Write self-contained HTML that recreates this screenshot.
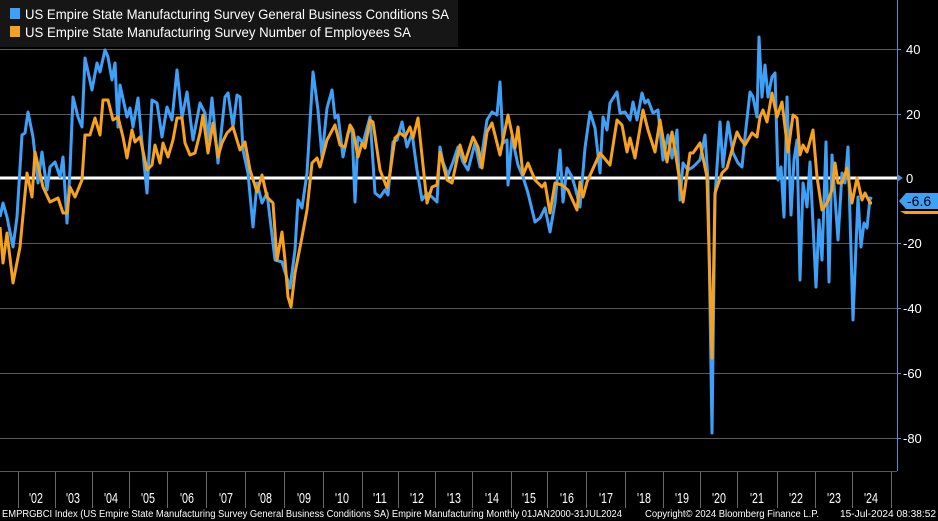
<!DOCTYPE html>
<html><head><meta charset="utf-8"><style>
html,body{margin:0;padding:0;background:#000;}
svg{display:block;font-family:"Liberation Sans",sans-serif;}
</style></head><body>
<svg width="938" height="521" viewBox="0 0 938 521" xmlns="http://www.w3.org/2000/svg">
<rect width="938" height="521" fill="#000"/>
<g stroke="#5a5a5a" stroke-width="1">
<line x1="0" y1="49.5" x2="897" y2="49.5"/>
<line x1="0" y1="114.5" x2="897" y2="114.5"/>
<line x1="0" y1="243.5" x2="897" y2="243.5"/>
<line x1="0" y1="308.5" x2="897" y2="308.5"/>
<line x1="0" y1="373.5" x2="897" y2="373.5"/>
<line x1="0" y1="438.5" x2="897" y2="438.5"/>
<line x1="0" y1="471.5" x2="897" y2="471.5"/>
</g>
<g stroke="#6a6a6a" stroke-width="1">
<line x1="18.5" y1="472" x2="18.5" y2="508"/><line x1="55.5" y1="472" x2="55.5" y2="508"/><line x1="92.5" y1="472" x2="92.5" y2="508"/><line x1="129.5" y1="472" x2="129.5" y2="508"/><line x1="167.5" y1="472" x2="167.5" y2="508"/><line x1="206.5" y1="472" x2="206.5" y2="508"/><line x1="245.5" y1="472" x2="245.5" y2="508"/><line x1="284.5" y1="472" x2="284.5" y2="508"/><line x1="323.5" y1="472" x2="323.5" y2="508"/><line x1="362.5" y1="472" x2="362.5" y2="508"/><line x1="398.5" y1="472" x2="398.5" y2="508"/><line x1="435.5" y1="472" x2="435.5" y2="508"/><line x1="472.5" y1="472" x2="472.5" y2="508"/><line x1="511.5" y1="472" x2="511.5" y2="508"/><line x1="547.5" y1="472" x2="547.5" y2="508"/><line x1="586.5" y1="472" x2="586.5" y2="508"/><line x1="625.5" y1="472" x2="625.5" y2="508"/><line x1="663.5" y1="472" x2="663.5" y2="508"/><line x1="700.5" y1="472" x2="700.5" y2="508"/><line x1="737.5" y1="472" x2="737.5" y2="508"/><line x1="777.5" y1="472" x2="777.5" y2="508"/><line x1="815.5" y1="472" x2="815.5" y2="508"/><line x1="852.5" y1="472" x2="852.5" y2="508"/><line x1="891.5" y1="472" x2="891.5" y2="508"/>
</g>
<g fill="#fff" font-size="15" text-anchor="middle">
<text x="36" y="503" textLength="14" lengthAdjust="spacingAndGlyphs">'02</text><text x="73" y="503" textLength="14" lengthAdjust="spacingAndGlyphs">'03</text><text x="111" y="503" textLength="14" lengthAdjust="spacingAndGlyphs">'04</text><text x="148" y="503" textLength="14" lengthAdjust="spacingAndGlyphs">'05</text><text x="187" y="503" textLength="14" lengthAdjust="spacingAndGlyphs">'06</text><text x="226" y="503" textLength="14" lengthAdjust="spacingAndGlyphs">'07</text><text x="265" y="503" textLength="14" lengthAdjust="spacingAndGlyphs">'08</text><text x="304" y="503" textLength="14" lengthAdjust="spacingAndGlyphs">'09</text><text x="342" y="503" textLength="14" lengthAdjust="spacingAndGlyphs">'10</text><text x="380" y="503" textLength="14" lengthAdjust="spacingAndGlyphs">'11</text><text x="417" y="503" textLength="14" lengthAdjust="spacingAndGlyphs">'12</text><text x="454" y="503" textLength="14" lengthAdjust="spacingAndGlyphs">'13</text><text x="492" y="503" textLength="14" lengthAdjust="spacingAndGlyphs">'14</text><text x="529" y="503" textLength="14" lengthAdjust="spacingAndGlyphs">'15</text><text x="567" y="503" textLength="14" lengthAdjust="spacingAndGlyphs">'16</text><text x="606" y="503" textLength="14" lengthAdjust="spacingAndGlyphs">'17</text><text x="644" y="503" textLength="14" lengthAdjust="spacingAndGlyphs">'18</text><text x="682" y="503" textLength="14" lengthAdjust="spacingAndGlyphs">'19</text><text x="719" y="503" textLength="14" lengthAdjust="spacingAndGlyphs">'20</text><text x="757" y="503" textLength="14" lengthAdjust="spacingAndGlyphs">'21</text><text x="796" y="503" textLength="14" lengthAdjust="spacingAndGlyphs">'22</text><text x="834" y="503" textLength="14" lengthAdjust="spacingAndGlyphs">'23</text><text x="871" y="503" textLength="14" lengthAdjust="spacingAndGlyphs">'24</text>
</g>
<g fill="#fff" font-size="10">
<text x="2" y="517" textLength="620" lengthAdjust="spacingAndGlyphs">EMPRGBCI Index (US Empire State Manufacturing Survey General Business Conditions SA) Empire Manufacturing  Monthly 01JAN2000-31JUL2024</text>
<text x="645" y="517" textLength="174" lengthAdjust="spacingAndGlyphs">Copyright© 2024 Bloomberg Finance L.P.</text>
<text x="840" y="517" textLength="96" lengthAdjust="spacingAndGlyphs">15-Jul-2024 08:38:52</text>
</g>
<line x1="0" y1="178" x2="897" y2="178" stroke="#fff" stroke-width="3"/>
<polyline fill="none" stroke="#3fa0f7" stroke-width="3" stroke-linejoin="round" points="0,217 3,203 7,217 13,247 17,217 22,135 25,133 28,112 33,137 38,183 42,152 47,190 50,167 55,162 60,177 63,157 67,223 70,170 73,97 78,117 82,127 85,58 92,90 97,63 100,72 105,50 108,57 112,80 115,63 118,127 120,85 127,117 130,108 133,127 138,98 142,143 147,193 152,100 157,103 162,137 167,107 172,120 177,70 182,118 187,92 193,140 200,103 205,113 208,140 212,98 218,163 225,97 228,93 233,127 237,95 240,97 243,150 248,173 253,227 257,183 262,203 267,193 275,260 282,262 290,288 295,250 298,200 302,208 307,173 313,72 318,110 322,157 327,108 332,90 335,118 338,115 343,157 348,133 352,128 355,202 358,137 363,143 370,117 375,193 380,197 385,190 388,195 393,142 397,140 402,122 407,147 412,133 417,170 422,200 427,193 432,197 437,202 440,147 443,162 448,175 453,162 458,147 463,162 468,170 475,143 480,167 487,120 492,112 497,115 500,82 503,143 507,140 508,185 512,137 518,165 523,177 528,193 535,222 540,218 545,208 550,232 555,203 560,150 563,202 567,168 572,177 575,187 580,207 585,148 590,112 595,128 600,173 603,117 607,130 610,103 617,92 620,113 625,112 630,120 633,102 637,120 642,93 645,103 648,100 653,113 658,110 663,160 668,135 672,158 677,130 680,200 683,163 688,170 693,167 700,160 705,135 708,180 712,433 715,197 720,122 723,167 728,122 733,153 738,163 742,167 745,137 750,92 753,97 757,117 759,37 762,97 765,65 768,97 772,77 775,73 778,180 781,167 784,217 787,97 791,215 794,160 797,140 800,280 803,183 807,207 810,162 816,287 819,220 822,260 826,142 829,282 832,155 838,240 842,173 845,183 848,147 853,320 858,197 861,247 864,223 867,228 870,198 872,199"/>
<polyline fill="none" stroke="#f7a21f" stroke-width="3" stroke-linejoin="round" points="0,227 3,263 7,233 13,283 20,247 27,173 32,197 35,152 43,187 50,202 58,198 63,213 67,213 70,187 75,197 82,180 85,135 90,135 95,118 100,135 103,100 108,100 113,120 118,117 123,137 127,158 132,130 135,142 140,137 147,170 152,165 155,145 160,163 163,143 168,157 173,140 177,118 182,118 185,143 190,155 195,153 200,133 203,115 208,153 213,123 218,157 222,143 227,133 233,127 240,150 245,142 250,170 257,192 262,175 267,197 273,203 277,260 282,232 285,260 288,297 291,307 295,273 302,237 307,210 312,163 317,158 320,167 327,140 335,125 340,145 345,147 350,125 353,130 358,157 362,143 365,148 370,120 373,122 380,170 387,188 390,173 395,138 400,133 405,137 410,127 413,138 418,118 427,203 432,187 437,185 440,152 447,180 452,183 460,145 465,162 473,137 478,147 482,168 487,132 492,123 500,155 508,115 515,148 518,127 523,175 528,163 535,180 542,187 545,183 550,213 555,183 562,185 568,190 577,210 580,182 583,197 587,182 600,153 610,165 617,120 622,125 627,152 630,138 635,158 643,110 648,130 655,152 660,120 667,162 672,132 677,163 683,202 688,167 690,153 693,153 700,143 707,177 712,358 715,193 722,173 727,168 737,132 740,138 745,145 752,133 757,137 760,117 763,110 767,122 772,93 777,117 782,102 788,152 793,115 797,118 800,155 803,145 807,152 813,130 817,177 822,210 827,203 832,190 835,163 838,183 842,183 847,168 852,203 857,178 862,200 865,193 870,203 872,203"/>
<line x1="897.5" y1="0" x2="897.5" y2="471" stroke="#4a8fd8" stroke-width="1"/>
<g stroke="#4a8fd8"><line x1="897" y1="49.5" x2="901" y2="49.5"/><line x1="897" y1="114.5" x2="901" y2="114.5"/><line x1="897" y1="243.5" x2="901" y2="243.5"/><line x1="897" y1="308.5" x2="901" y2="308.5"/><line x1="897" y1="373.5" x2="901" y2="373.5"/><line x1="897" y1="438.5" x2="901" y2="438.5"/></g>
<polygon points="897,174 903,178 897,182" fill="#4a8fd8"/>
<g fill="#fff" font-size="13">
<text x="906" y="54">40</text><text x="906" y="119">20</text><text x="906" y="183">0</text><text x="903" y="248">-20</text><text x="903" y="313">-40</text><text x="903" y="378">-60</text><text x="903" y="443">-80</text>
</g>
<polygon points="900,211 938,211 938,214 905,214" fill="#f7a21f"/>
<polygon points="899,201 906,193 938,193 938,209 906,209" fill="#3fa0f7"/>
<text x="907" y="206" fill="#000" font-size="14">-6.6</text>
<rect x="0" y="0" width="458" height="47" fill="#161616"/>
<rect x="10" y="8" width="10" height="11" fill="#3fa0f7"/>
<rect x="10" y="26" width="10" height="11" fill="#f7a21f"/>
<g fill="#fff" font-size="14">
<text x="25" y="19" textLength="424" lengthAdjust="spacingAndGlyphs">US Empire State Manufacturing Survey General Business Conditions SA</text>
<text x="25" y="37" textLength="386" lengthAdjust="spacingAndGlyphs">US Empire State Manufacturing Survey Number of Employees SA</text>
</g>
</svg>
</body></html>
